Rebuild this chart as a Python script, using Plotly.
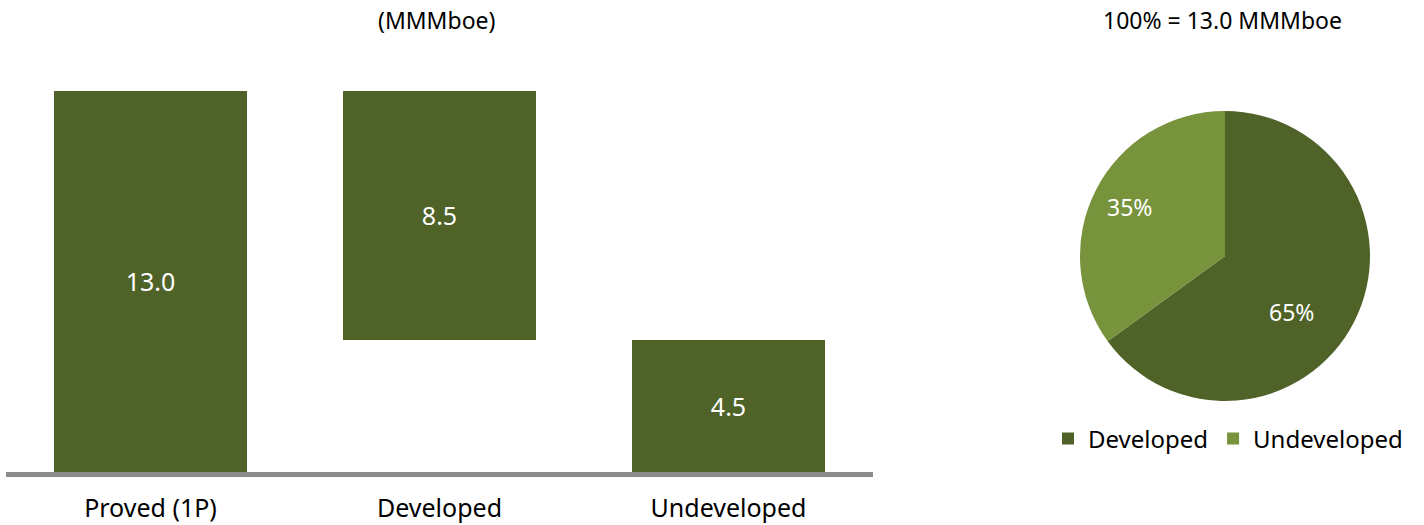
import math
import plotly.graph_objects as go

# Reserves walk (MMMboe)
categories = ["Proved (1P)", "Developed", "Undeveloped"]
proved = 13.0
developed = 8.5
undeveloped = 4.5
bar_values = [proved, developed, undeveloped]
bar_bases = [0.0, proved - developed, 0.0]
bar_labels = [f"{v:.1f}" for v in bar_values]

# Split of proved reserves
pie_labels = ["Developed", "Undeveloped"]
pie_values = [65, 35]

DARK = "#4F6228"
LIGHT = "#77933C"
FONT = "Noto Sans"
W, H = 1424, 525

fig = go.Figure()

fig.add_trace(go.Bar(
    x=categories, y=bar_values, base=bar_bases,
    marker=dict(color=DARK, line=dict(width=0)),
    width=0.667,
    text=bar_labels, textposition="inside", insidetextanchor="middle",
    textfont=dict(color="white", size=25, family=FONT),
    showlegend=False, hoverinfo="skip",
))

# Pie geometry (pixels) used for the domain and the percentage labels
cx, cy, r = 1225, 256, 145
fig.add_trace(go.Pie(
    labels=pie_labels, values=pie_values,
    marker=dict(colors=[DARK, LIGHT], line=dict(width=0)),
    sort=False, direction="clockwise", rotation=0,
    textinfo="none",
    domain=dict(x=[(cx - r) / W, (cx + r) / W], y=[(H - cy - r) / H, (H - cy + r) / H]),
    showlegend=True, hoverinfo="skip",
))

# Percentage labels placed near each slice's mid-angle
label_radius = [0.60, 0.74]
label_angle_shift = [13, 0]  # degrees, clockwise
total = sum(pie_values)
pie_annotations = []
cum = 0.0
for v, rf, shift in zip(pie_values, label_radius, label_angle_shift):
    mid = (cum + v / 2) / total * 2 * math.pi + math.radians(shift)
    cum += v
    px = cx + rf * r * math.sin(mid)
    py = cy - rf * r * math.cos(mid)
    pie_annotations.append(dict(
        text=f"{round(100 * v / total)}%", x=px / W, y=(H - py) / H,
        xref="paper", yref="paper", xanchor="center", yanchor="middle",
        showarrow=False, font=dict(size=23, family=FONT, color="white"),
    ))

y_zero_px = 472
px_per_unit = 29.3
y_top = 14.0
axis_px = y_zero_px + 2.5  # baseline rule sits just under the bars
fig.update_layout(
    width=W, height=H,
    margin=dict(l=0, r=0, t=0, b=0, autoexpand=False),
    paper_bgcolor="white", plot_bgcolor="white",
    font=dict(family=FONT, color="black"),
    bargap=0,
    xaxis=dict(
        domain=[6 / W, 873 / W], range=[-0.5, 2.5],
        showgrid=False, zeroline=False, showline=False, automargin=False,
        ticks="outside", ticklen=14, tickcolor="rgba(0,0,0,0)",
        tickfont=dict(size=25, family=FONT, color="black"),
        fixedrange=True,
    ),
    yaxis=dict(
        domain=[(H - y_zero_px) / H, (H - (y_zero_px - y_top * px_per_unit)) / H],
        range=[0, y_top], visible=False, fixedrange=True, automargin=False,
    ),
    legend=dict(
        orientation="h", x=1228 / W, xanchor="center",
        y=(H - 439) / H, yanchor="middle",
        font=dict(size=24, family=FONT, color="black"),
        itemwidth=30, traceorder="normal",
    ),
    shapes=[dict(
        type="line", xref="x domain", yref="paper",
        x0=0, x1=1, y0=(H - axis_px) / H, y1=(H - axis_px) / H,
        line=dict(color="#8C8C8C", width=5),
    )],
    annotations=[
        dict(text="(MMMboe)", x=436 / W, y=(H - 20) / H, xref="paper", yref="paper",
             xanchor="center", yanchor="middle", showarrow=False,
             font=dict(size=23, family=FONT, color="black")),
        dict(text="100% = 13.0 MMMboe", x=1222 / W, y=(H - 20) / H, xref="paper", yref="paper",
             xanchor="center", yanchor="middle", showarrow=False,
             font=dict(size=23, family=FONT, color="black")),
    ] + pie_annotations,
)

fig.write_html("out.html")
